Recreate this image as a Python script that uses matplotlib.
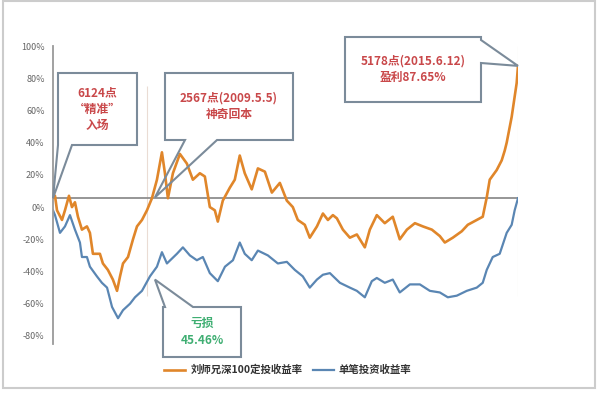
import matplotlib
matplotlib.use('Agg')
import matplotlib.pyplot as plt
import matplotlib.patches as patches
import matplotlib.dates as mdates
import pandas as pd

plt.rcParams['font.family'] = ['Noto Sans CJK SC', 'DejaVu Sans']

# 定投收益率 (橙线), 读图估计, 单位 %
orange_dates = ['2007-10-16', '2007-10-28', '2007-11-09', '2007-12-09', '2007-12-27', '2008-01-20',
                '2008-02-07', '2008-02-25', '2008-03-14', '2008-04-07', '2008-05-07', '2008-05-25',
                '2008-06-12', '2008-07-24', '2008-08-11', '2008-09-10', '2008-10-10', '2008-11-04',
                '2008-11-22', '2008-12-10', '2009-01-09', '2009-02-08', '2009-03-04', '2009-04-03',
                '2009-05-03', '2009-06-02', '2009-07-02', '2009-08-01', '2009-08-19', '2009-09-06',
                '2009-10-06', '2009-11-17', '2009-12-29', '2010-02-03', '2010-03-17', '2010-04-16',
                '2010-05-16', '2010-06-15', '2010-07-03', '2010-08-02', '2010-09-13', '2010-10-13',
                '2010-11-12', '2010-12-12', '2011-01-23', '2011-03-01', '2011-04-12', '2011-05-24',
                '2011-07-11', '2011-08-22', '2011-09-27', '2011-10-27', '2011-12-08', '2012-01-07',
                '2012-02-19', '2012-03-26', '2012-04-25', '2012-05-25', '2012-06-18', '2012-07-24',
                '2012-09-04', '2012-10-16', '2012-12-03', '2013-01-02', '2013-02-13', '2013-04-02',
                '2013-05-20', '2013-07-01', '2013-08-13', '2013-09-30', '2013-11-17', '2014-01-10',
                '2014-02-27', '2014-03-29', '2014-05-16', '2014-07-09', '2014-08-14', '2014-10-07',
                '2014-11-12', '2014-12-06', '2014-12-24', '2015-02-04', '2015-03-06', '2015-03-24',
                '2015-04-05', '2015-05-05', '2015-06-04', '2015-06-12']
orange_vals = [6, 7, -2, -8, -2, 7,
               0, 3, -6, -14, -12, -16,
               -29, -29, -35, -39, -45, -52,
               -43, -35, -31, -20, -12, -8,
               -2, 5.5, 17, 34, 21, 5.5,
               21, 33, 27, 17, 21, 19,
               0, -2, -9, 4, 12, 17,
               32, 21, 11, 24, 22, 9,
               15, 4, 0, -8, -11, -19,
               -12, -4, -8, -5, -7, -14,
               -19, -17, -25, -14, -5, -10,
               -6, -20, -14, -10, -12, -14,
               -18, -22, -19, -15, -11, -8,
               -6, 6, 17, 23, 29, 35,
               40, 56, 77, 87.65]

# 单笔投资收益率 (蓝线)
blue_dates = ['2007-10-16', '2007-10-28', '2007-11-27', '2007-12-27', '2008-01-26', '2008-02-25',
              '2008-03-26', '2008-04-07', '2008-05-07', '2008-05-25', '2008-07-06', '2008-08-05',
              '2008-09-05', '2008-10-05', '2008-11-10', '2008-12-10', '2009-01-21', '2009-02-20',
              '2009-04-03', '2009-05-21', '2009-07-02', '2009-08-01', '2009-08-31', '2009-09-30',
              '2009-10-30', '2009-12-05', '2010-01-16', '2010-02-27', '2010-04-04', '2010-05-16',
              '2010-07-03', '2010-08-15', '2010-10-02', '2010-11-12', '2010-12-12', '2011-01-23',
              '2011-03-01', '2011-04-30', '2011-06-29', '2011-08-22', '2011-10-09', '2011-11-26',
              '2012-01-07', '2012-02-19', '2012-03-26', '2012-05-07', '2012-07-06', '2012-09-04',
              '2012-10-16', '2012-12-03', '2013-01-14', '2013-02-13', '2013-04-02', '2013-05-20',
              '2013-07-01', '2013-08-31', '2013-10-30', '2013-12-29', '2014-02-27', '2014-04-16',
              '2014-06-09', '2014-08-08', '2014-10-07', '2014-11-12', '2014-12-06', '2015-01-11',
              '2015-02-22', '2015-04-05', '2015-05-05', '2015-05-23', '2015-06-12']
blue_vals = [-2, -5, -16, -12, -5, -14,
             -22, -31, -31, -37, -43, -47,
             -50, -62, -69, -64, -60, -56,
             -52, -43, -37, -28, -35, -32,
             -29, -25, -30, -33, -31, -41,
             -46, -37, -33, -22, -29, -33,
             -27, -30, -35, -34, -39, -43,
             -50, -45, -42, -41, -47, -50,
             -52, -56, -46, -44, -47, -45,
             -53, -48, -48, -52, -53, -56,
             -55, -52, -50, -47, -39, -31,
             -29, -16, -11, -2, 5.5]

y_ticks = [100, 80, 60, 40, 20, 0, -20, -40, -60, -80]
y_labels = ['%d%%' % t for t in y_ticks]
legend_labels = ['刘师兄深100定投收益率', '单笔投资收益率']

orange_c = '#E0862A'
blue_c = '#5A86B3'
red_c = '#C9484A'
green_c = '#3FAE72'
edge_c = '#7B8B9A'

o_dates = pd.to_datetime(orange_dates)
b_dates = pd.to_datetime(blue_dates)

fig = plt.figure(figsize=(6, 4), dpi=100)
ax = fig.add_axes([53 / 600, 1 - 344 / 400, 465 / 600, 298 / 400])

# 参考线
ax.axhline(blue_vals[-1], color='#8E8E8E', lw=1.3, zorder=1)
ax.vlines(pd.to_datetime(['2009-05-05']), -55, 75, color='#EADCD4', lw=0.8, zorder=0)
ax.vlines(o_dates[-1:], -55, 100, color='#EADCD4', lw=0.8, zorder=0)

ax.plot(o_dates, orange_vals, color=orange_c, lw=1.9, zorder=3, label=legend_labels[0])
ax.plot(b_dates, blue_vals, color=blue_c, lw=1.6, zorder=2, label=legend_labels[1])

ax.set_xlim(o_dates[0], o_dates[-1])
ax.set_ylim(-85, 100)
ax.set_yticks(y_ticks)
ax.set_yticklabels(y_labels, fontsize=6.5, color='#666666')
ax.tick_params(axis='y', length=0, pad=6)
ax.set_xticks([])
for s in ['top', 'right', 'bottom']:
    ax.spines[s].set_visible(False)
ax.spines['left'].set_color('#9A9A9A')
ax.spines['left'].set_linewidth(1.3)


def fpt(x, y):
    # 像素坐标(左上为原点) -> figure 比例
    return (x / 600, 1 - y / 400)


def tip_px(date, val):
    d = ax.transData.transform((mdates.date2num(pd.to_datetime(date)), val))
    f = fig.transFigure.inverted().transform(d)
    return (f[0] * 600, (1 - f[1]) * 400)


def callout(box, side, base, tip, text, color):
    x0, y0, x1, y1 = box
    a, b = base
    if side == 'bottom':
        pts = [(x0, y0), (x1, y0), (x1, y1), (b, y1), tip, (a, y1), (x0, y1)]
    elif side == 'right':
        pts = [(x0, y0), (x1, y0), (x1, a), tip, (x1, b), (x1, y1), (x0, y1)]
    else:
        pts = [(x0, y0), (a, y0), tip, (b, y0), (x1, y0), (x1, y1), (x0, y1)]
    poly = patches.Polygon([fpt(*p) for p in pts], closed=True, transform=fig.transFigure,
                           facecolor='none', edgecolor=edge_c, lw=1.5, zorder=5)
    fig.add_artist(poly)
    cx, cy = fpt((x0 + x1) / 2, (y0 + y1) / 2)
    fig.text(cx, cy, text, ha='center', va='center', color=color, fontsize=8.5,
             fontweight='bold', linespacing=1.35, zorder=6)


callout((58, 73, 137, 145), 'bottom', (58, 72), tip_px(orange_dates[0], 5.5),
        '6124点\n“精准”\n入场', red_c)
callout((165, 73, 293, 140), 'bottom', (185, 217), tip_px('2009-06-20', 6),
        '2567点(2009.5.5)\n神奇回本', red_c)
callout((345, 37, 481, 102), 'right', (40, 63), tip_px(orange_dates[-1], orange_vals[-1]),
        '5178点(2015.6.12)\n盈利87.65%', red_c)
callout((163, 307, 241, 357), 'top', (165, 193), tip_px('2009-06-20', -45),
        '亏损\n45.46%', green_c)

leg = fig.legend(loc='center', bbox_to_anchor=(0.48, 0.075), ncol=2, frameon=False,
                 fontsize=7.5, handlelength=2.0, columnspacing=1.0, handletextpad=0.5)
for t in leg.get_texts():
    t.set_color('#333333')
    t.set_fontweight('bold')

# 外框
fig.add_artist(patches.Rectangle((3 / 600, 12 / 400), 592 / 600, 387 / 400, transform=fig.transFigure,
                                 fill=False, edgecolor='#CCCCCC', lw=1.5))

fig.savefig('out.png', dpi=100)
